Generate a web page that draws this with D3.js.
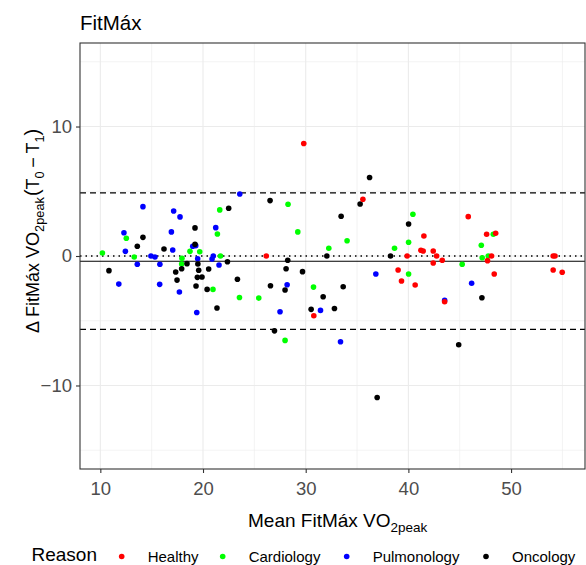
<!DOCTYPE html>
<html>
<head>
<meta charset="utf-8">
<script src="https://cdn.jsdelivr.net/npm/d3@7"></script>
<style>
  body { margin: 0; background: #fff; }
  text { font-family: "Liberation Sans", Arial, sans-serif; }
</style>
</head>
<body>
<script>
// group names and colours (legend order)
var reasons = ["Healthy", "Cardiology", "Pulmonology", "Oncology"];
var colours = ["#FF0000", "#00FF00", "#0000FF", "#000000"];

// mean VO2peak (x) and difference T0 - T1 (y), per group
var healthyX = [26.16, 29.81, 30.79, 35.57, 39.88, 39.0, 39.33, 40.66, 41.51, 41.22, 41.44, 42.42, 42.75, 42.42, 43.3, 43.53, 45.83, 47.62, 48.5, 48.1, 47.71, 48.36, 54.1, 54.28, 54.1, 54.98];
var healthyY = [0, 8.69, -4.61, 4.38, 0, -1.08, -1.93, -2.24, 1.55, 0.44, 0.39, 0.39, 0, -0.54, -0.33, -3.53, 3.04, 1.68, 1.76, 0, -0.36, -1.39, 0, 0, -1.08, -1.26];

var cardioX = [10.2, 12.53, 13.3, 17.95, 17.92, 18.73, 19.68, 21.63, 21.4, 21.7, 20.97, 23.55, 25.43, 28.28, 29.23, 30.76, 32.25, 34.03, 27.99, 38.65, 40.02, 40.02, 40.44, 47.1, 47.19, 47.78, 48.27, 45.24];
var cardioY = [0.23, 1.37, -0.08, -0.18, -0.62, 0.36, 0.33, 3.56, 1.7, 0, -2.58, -3.2, -3.25, 4.0, 1.86, -2.4, 0.6, 1.18, -6.52, 0.6, 1.06, -1.39, 3.22, 0.83, -0.13, 0, 1.68, -0.64];

var pulmoX = [11.8, 12.3, 12.44, 14.15, 13.6, 14.93, 15.32, 15.8, 15.78, 16.92, 17.14, 17.76, 17.05, 17.7, 19.0, 19.29, 19.48, 19.39, 23.58, 21.24, 21.0, 20.88, 21.56, 28.19, 27.5, 31.44, 33.39, 36.83, 43.53, 46.16];
var pulmoY = [-2.17, 1.8, 0.36, 3.81, -0.64, 0, -0.08, -0.64, -2.19, 1.86, 3.48, 3.02, 0.46, -2.78, 0.75, 0.8, -0.21, -4.36, 4.79, 2.19, 0, -0.23, -0.7, -2.22, -4.3, -4.2, -6.62, -1.39, -3.43, -2.11];

var oncoX = [10.84, 14.15, 13.6, 16.2, 17.34, 17.47, 17.92, 18.44, 19.22, 19.22, 19.5, 19.58, 19.45, 19.9, 19.32, 20.55, 20.4, 22.5, 22.38, 23.35, 21.36, 26.53, 28.25, 28.09, 29.69, 26.57, 27.99, 31.7, 30.53, 26.96, 32.06, 36.22, 35.3, 33.45, 40.02, 38.26, 33.65, 32.8, 36.96, 47.16, 44.9];
var oncoY = [-1.13, 1.44, 0.75, 0.54, -1.24, -1.86, -0.98, -0.59, 2.17, 0.9, -0.62, -1.1, -1.65, -1.62, -2.32, -1.0, -2.58, 3.69, -0.44, -1.8, -4.02, 4.28, -0.33, -0.98, -1.21, -2.3, -2.63, -3.15, -4.12, -5.78, 0, 6.06, 4.02, 3.07, 2.47, 0, -2.37, -4.05, -10.93, -3.22, -6.85];

// bias and limits of agreement
var meanDiff = -0.4;
var upperLoA = 4.87;
var lowerLoA = -5.67;

var xTicks = [10, 20, 30, 40, 50];
var xMinor = [15, 25, 35, 45, 55];
var yTicks = [-10, 0, 10];
var yMinor = [-15, -5, 5, 15];

var width = 586, height = 565;
var pLeft = 80, pRight = 585, pTop = 43, pBottom = 469;

var svg = d3.select("body").append("svg")
    .attr("width", width)
    .attr("height", height);

var x = d3.scaleLinear().domain([8.02, 57.2]).range([pLeft, pRight]);
var y = d3.scaleLinear().domain([-16.45, 16.45]).range([pBottom, pTop]);

// grid
var grid = svg.append("g");
grid.selectAll(".xmin").data(xMinor).enter().append("line")
    .attr("x1", d => x(d)).attr("x2", d => x(d)).attr("y1", pTop).attr("y2", pBottom)
    .attr("stroke", "#EBEBEB").attr("stroke-width", 0.6);
grid.selectAll(".ymin").data(yMinor).enter().append("line")
    .attr("y1", d => y(d)).attr("y2", d => y(d)).attr("x1", pLeft).attr("x2", pRight)
    .attr("stroke", "#EBEBEB").attr("stroke-width", 0.6);
grid.selectAll(".xmaj").data(xTicks).enter().append("line")
    .attr("x1", d => x(d)).attr("x2", d => x(d)).attr("y1", pTop).attr("y2", pBottom)
    .attr("stroke", "#EBEBEB").attr("stroke-width", 1.1);
grid.selectAll(".ymaj").data(yTicks).enter().append("line")
    .attr("y1", d => y(d)).attr("y2", d => y(d)).attr("x1", pLeft).attr("x2", pRight)
    .attr("stroke", "#EBEBEB").attr("stroke-width", 1.1);

// reference lines
function hline(v, dash, w) {
  svg.append("line")
      .attr("x1", pLeft).attr("x2", pRight)
      .attr("y1", y(v)).attr("y2", y(v))
      .attr("stroke", "#000").attr("stroke-width", w)
      .attr("stroke-dasharray", dash);
}
hline(0, "1.5,4", 1.5);
hline(meanDiff, null, 1.1);
hline(upperLoA, "6,4", 1.3);
hline(lowerLoA, "6,4", 1.3);

// points
var groups = [
  {xs: cardioX, ys: cardioY, c: colours[1]},
  {xs: pulmoX, ys: pulmoY, c: colours[2]},
  {xs: oncoX, ys: oncoY, c: colours[3]},
  {xs: healthyX, ys: healthyY, c: colours[0]}
];
groups.forEach(function(g) {
  svg.append("g").selectAll("circle")
      .data(d3.range(g.xs.length))
      .enter().append("circle")
      .attr("cx", i => x(g.xs[i]))
      .attr("cy", i => y(g.ys[i]))
      .attr("r", 2.8)
      .attr("fill", g.c);
});

// panel border
svg.append("rect")
    .attr("x", pLeft).attr("y", pTop)
    .attr("width", pRight - pLeft).attr("height", pBottom - pTop)
    .attr("fill", "none").attr("stroke", "#333").attr("stroke-width", 1.1);

// axes
var xAxis = svg.append("g")
    .attr("transform", "translate(0," + pBottom + ")")
    .call(d3.axisBottom(x).tickValues(xTicks).tickSize(4).tickPadding(4));
var yAxis = svg.append("g")
    .attr("transform", "translate(" + pLeft + ",0)")
    .call(d3.axisLeft(y).tickValues(yTicks).tickSize(4).tickPadding(4));
[xAxis, yAxis].forEach(function(a) {
  a.select(".domain").remove();
  a.selectAll("line").attr("stroke", "#333").attr("stroke-width", 1.1);
  a.selectAll("text").attr("fill", "#4D4D4D")
      .style("font-size", "18.5px")
      .style("font-family", "'Liberation Sans', Arial, sans-serif");
});
xAxis.selectAll("text").attr("dy", "0.95em");

// title
svg.append("text")
    .attr("x", pLeft).attr("y", 30)
    .style("font-size", "20.5px")
    .text("FitMáx");

// x title
var xt = svg.append("text")
    .attr("x", 248).attr("y", 527)
    .style("font-size", "19px");
xt.append("tspan").text("Mean FitMáx VO");
xt.append("tspan").attr("dy", 5).style("font-size", "13.5px").text("2peak");

// y title
var yt = svg.append("text")
    .attr("transform", "translate(39,333) rotate(-90)")
    .style("font-size", "18px");
yt.append("tspan").text("Δ FitMáx VO");
yt.append("tspan").attr("dy", 5).style("font-size", "12.8px").text("2peak");
yt.append("tspan").attr("dy", -5).attr("dx", 1).style("font-size", "20px").text("(");
yt.append("tspan").text("T");
yt.append("tspan").attr("dy", 5).style("font-size", "12.8px").text("0");
yt.append("tspan").attr("dy", -5).text("\u2009−\u2009T");
yt.append("tspan").attr("dy", 5).style("font-size", "12.8px").text("1");
yt.append("tspan").attr("dy", -5).style("font-size", "20px").text(")");

// legend
svg.append("text")
    .attr("x", 31.5).attr("y", 561)
    .style("font-size", "19px")
    .text("Reason");
var legX = [121.7, 222.7, 346.7, 486];
var leg = svg.append("g").selectAll("g")
    .data(reasons).enter().append("g");
leg.append("circle")
    .attr("cx", (d, i) => legX[i]).attr("cy", 556.5)
    .attr("r", 2.8)
    .attr("fill", (d, i) => colours[i]);
leg.append("text")
    .attr("x", (d, i) => legX[i] + 26).attr("y", 562)
    .style("font-size", "15px")
    .text(d => d);
</script>
</body>
</html>
